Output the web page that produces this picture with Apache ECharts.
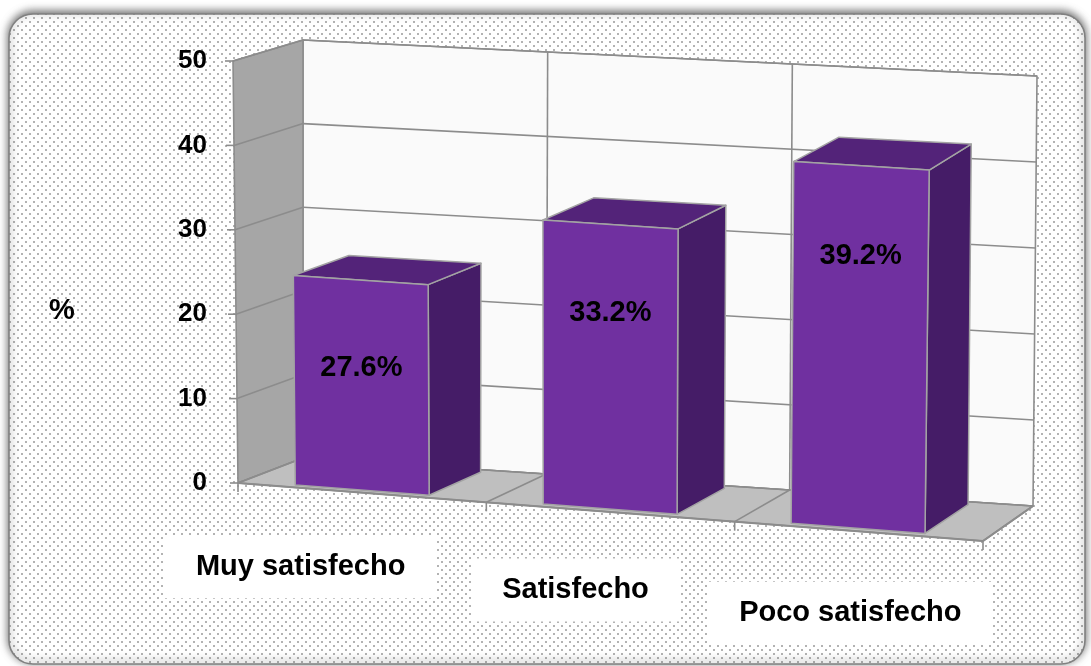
<!DOCTYPE html>
<html><head><meta charset="utf-8">
<script src="https://cdn.jsdelivr.net/npm/echarts@6/dist/echarts.min.js"></script>
<style>html,body{margin:0;padding:0;background:#fff;} #c{width:1091px;height:666px;}</style>
</head><body><div id="c"></div><script>
// ---------- data ----------
const categories = ['Muy satisfecho', 'Satisfecho', 'Poco satisfecho'];
const barValues = [24.8, 33.3, 42.0];          // bar heights read against the value axis
const barLabels = ['27.6%', '33.2%', '39.2%']; // data label texts shown on the bars
const yTicks = [0, 10, 20, 30, 40, 50];
const yName = '%';

// ---------- layout / style constants ----------
const Y_MAX = yTicks[yTicks.length - 1];
const N = categories.length;
const DEPTH = {
  floor: { FL: [2, 0], FR: [0, 58], BL: [67, -25], BR: [50, 23] },
  lean:  { FL: -5, FR: 6, BL: 0, BR: 4 },
  scale: { FL: 1, FR: 1.028, BL: 0.9905, BR: 1.019 }
};
const BAR = { u0: 0.21, u1: 0.75, w0: 0.08, w1: 0.92, labelDrop: 10.4 };
const CATLAB = { dx0: -61.5, dxk: 26.5, dy0: 74, dyk: 3.9 };
const GRIDC = '#8c8c8c';
const LABEL_FONT = 'bold 29px "Liberation Sans", Arial, sans-serif';
const AXIS_FONT = '"Liberation Sans", Arial, sans-serif';

function projector(api) {
  const o = api.coord([0, 0]);
  const xr = api.coord([N, 0])[0];
  const yt = api.coord([0, Y_MAX])[1];
  const W = xr - o[0], H = o[1] - yt;
  const f = DEPTH.floor, l = DEPTH.lean, s = DEPTH.scale;
  return function (u, v, w) {
    const p = api.coord([u, v]);
    const t = (p[0] - o[0]) / W;
    const h = (o[1] - p[1]) / H;
    const a = (1 - t) * (1 - w), b = t * (1 - w), c = (1 - t) * w, d = t * w;
    const fx = p[0] + a * f.FL[0] + b * f.FR[0] + c * f.BL[0] + d * f.BR[0];
    const fy = o[1] + a * f.FL[1] + b * f.FR[1] + c * f.BL[1] + d * f.BR[1];
    const vx = a * l.FL + b * l.FR + c * l.BL + d * l.BR;
    const vs = a * s.FL + b * s.FR + c * s.BL + d * s.BR;
    return [fx + h * vx, fy - h * H * vs];
  };
}

function poly(pts, fill, stroke, lw) {
  return { type: 'polygon', shape: { points: pts }, style: { fill: fill, stroke: stroke, lineWidth: lw, lineJoin: 'round' } };
}
function seg(p1, p2, lw) {
  return { type: 'line', shape: { x1: p1[0], y1: p1[1], x2: p2[0], y2: p2[1] }, style: { stroke: GRIDC, lineWidth: lw || 1.6 } };
}

function renderWalls(params, api) {
  const P = projector(api);
  const ch = [];
  ch.push(poly([P(0, 0, 1), P(N, 0, 1), P(N, Y_MAX, 1), P(0, Y_MAX, 1)], '#fafafa', GRIDC, 1.6));
  ch.push(poly([P(0, 0, 0), P(0, 0, 1), P(0, Y_MAX, 1), P(0, Y_MAX, 0)], '#a6a6a6', GRIDC, 1.6));
  ch.push(poly([P(0, 0, 0), P(N, 0, 0), P(N, 0, 1), P(0, 0, 1)], '#bfbfbf', GRIDC, 1.6));
  yTicks.forEach(function (v) {
    ch.push(seg(P(0, v, 1), P(N, v, 1)));
    ch.push(seg(P(0, v, 0), P(0, v, 1)));
    const q = P(0, v, 0);
    ch.push(seg([q[0] - 8, q[1]], q));
  });
  for (let u = 1; u < N; u++) {
    ch.push(seg(P(u, 0, 1), P(u, Y_MAX, 1)));
    ch.push(seg(P(u, 0, 0), P(u, 0, 1)));
  }
  for (let u = 0; u <= N; u++) {
    const q = P(u, 0, 0);
    ch.push(seg(q, [q[0], q[1] + 9]));
  }
  ch.push(seg(P(0, 0, 0), P(N, 0, 0), 2.2));
  ch.push(seg(P(N, 0, 0), P(N, 0, 1), 2));
  return { type: 'group', children: ch };
}

function renderBar(params, api) {
  const P = projector(api);
  const i = api.value(0), v = api.value(1);
  const u0 = i + BAR.u0, u1 = i + BAR.u1, w0 = BAR.w0, w1 = BAR.w1;
  const EDGE = '#a3a3a3';
  const lp = P((u0 + u1) / 2, v - BAR.labelDrop, w0);
  return { type: 'group', children: [
    poly([P(u1, 0, w0), P(u1, 0, w1), P(u1, v, w1), P(u1, v, w0)], '#451c67', EDGE, 1.5),
    poly([P(u0, v, w0), P(u1, v, w0), P(u1, v, w1), P(u0, v, w1)], '#532379', EDGE, 1.5),
    poly([P(u0, 0, w0), P(u1, 0, w0), P(u1, v, w0), P(u0, v, w0)], '#7030a0', EDGE, 1.5),
    { type: 'text', style: { text: barLabels[params.dataIndex], x: lp[0], y: lp[1],
      align: 'center', verticalAlign: 'middle', font: LABEL_FONT, fill: '#000' } }
  ]};
}

function renderCat(params, api) {
  const P = projector(api);
  const i = api.value(0);
  const u = i + 0.5, k = i;
  const q = P(u, 0, 0);
  return { type: 'text', style: { text: categories[i],
    x: q[0] + CATLAB.dx0 + CATLAB.dxk * k, y: q[1] + CATLAB.dy0 + CATLAB.dyk * k,
    align: 'center', verticalAlign: 'middle', font: LABEL_FONT, fill: '#000',
    backgroundColor: '#ffffff', padding: [17, 31] } };
}

// dotted background pattern
const pat = document.createElement('canvas');
pat.width = 8; pat.height = 8;
(function () {
  const g = pat.getContext('2d');
  g.fillStyle = '#ffffff'; g.fillRect(0, 0, 8, 8);
  g.fillStyle = '#b3b3b3';
  g.fillRect(1, 1, 2, 2); g.fillRect(5, 5, 2, 2);
})();

const chart = echarts.init(document.getElementById('c'), null, { renderer: 'canvas' });
chart.setOption({
  animation: false,
  backgroundColor: '#ffffff',
  graphic: [{
    type: 'rect', z: -10, silent: true,
    shape: { x: 9, y: 14, width: 1076, height: 650, r: 24 },
    style: { fill: { image: pat, repeat: 'repeat' }, stroke: '#808080', lineWidth: 1.6,
      shadowBlur: 8, shadowOffsetY: -2, shadowColor: 'rgba(0,0,0,0.6)' }
  }],
  grid: { left: 236, top: 61, width: 747, height: 422, containLabel: false },
  xAxis: { type: 'value', min: 0, max: N, show: false },
  yAxis: {
    type: 'value', min: 0, max: Y_MAX, interval: 10, z: 10,
    name: yName, nameLocation: 'middle', nameGap: 174, nameRotate: 0,
    nameTextStyle: { fontFamily: AXIS_FONT, fontWeight: 'bold', fontSize: 29, color: '#000',
      align: 'center', verticalAlign: 'top', lineHeight: 78 },
    axisLine: { show: false }, axisTick: { show: false }, splitLine: { show: false },
    axisLabel: { margin: 29, fontFamily: AXIS_FONT, fontWeight: 'bold', fontSize: 26, color: '#000' }
  },
  series: [
    { type: 'custom', z: 1, renderItem: renderWalls, data: [[0, 0]], silent: true },
    { type: 'custom', z: 3, renderItem: renderBar, data: barValues.map(function (v, i) { return [i, v]; }) },
    { type: 'custom', z: 4, renderItem: renderCat, data: categories.map(function (c, i) { return [i, 0]; }) }
  ]
});
</script></body></html>
